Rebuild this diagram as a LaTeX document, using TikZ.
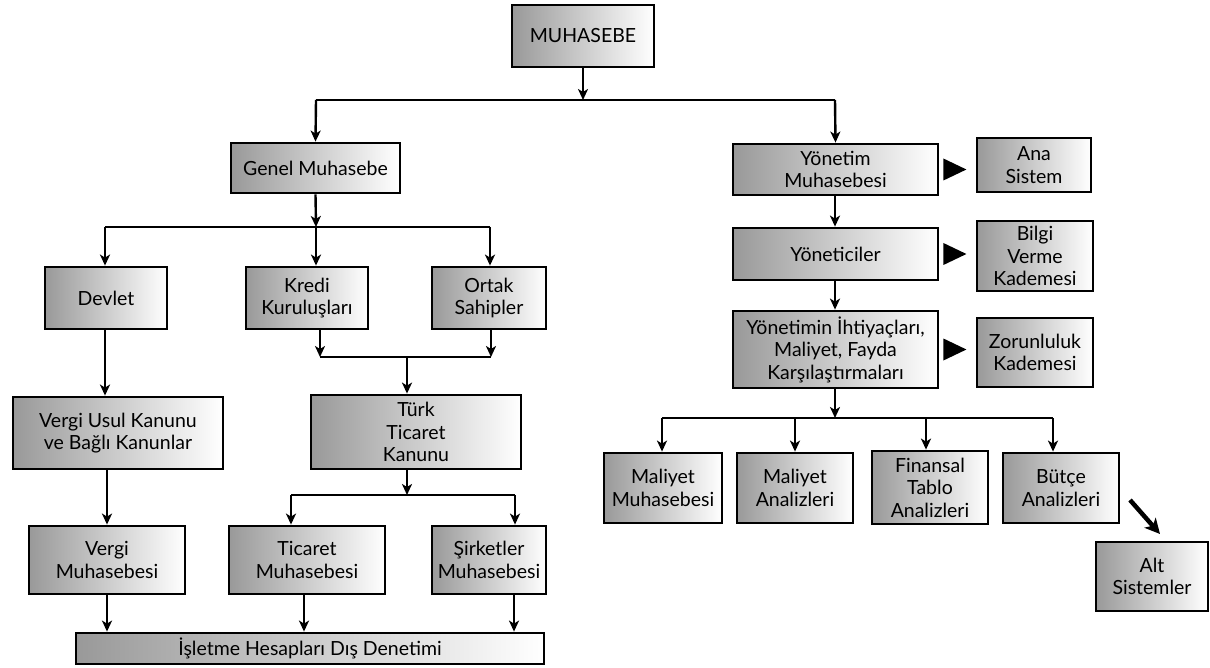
\documentclass[tikz,border=0pt]{standalone}
\usepackage{fontspec}
\setmainfont{Lato}
\usetikzlibrary{arrows.meta,calc}
\begin{document}
\begin{tikzpicture}[x=1pt,y=-1pt,
  box/.style={draw=black,line width=2.8pt,shading=axis,left color=black!40,right color=white,
    inner sep=0pt,align=center,font=\fontsize{19.5}{22.5}\selectfont},
  arr/.style={line width=2.4pt,-{Stealth[length=11pt,width=10pt,inset=3pt]}},
  ln/.style={line width=2.4pt},
  tri/.style={fill=black}]
\useasboundingbox (0,0) rectangle (1210,668);
\newcommand{\bx}[6]{\node[box,minimum width={#4-#2},minimum height={#5-#3}] (#1) at ({(#2+#4)/2},{(#3+#5)/2}) {#6};}
% left branch
\bx{mu}{512}{5}{654}{67}{MUHASEBE}
\bx{gm}{231}{143}{400}{193}{Genel Muhasebe}
\bx{dv}{45}{267}{167}{329}{Devlet}
\bx{kk}{246}{267}{368}{329}{Kredi\\Kuruluşları}
\bx{os}{432}{267}{546}{329}{Ortak\\Sahipler}
\bx{vu}{13}{397}{223}{469}{Vergi Usul Kanunu\\ve Bağlı Kanunlar}
\bx{tt}{311}{395}{521}{469}{Türk\\Ticaret\\Kanunu}
\bx{vm}{29}{526}{185}{594}{Vergi\\Muhasebesi}
\bx{tm}{229}{526}{385}{594}{Ticaret\\Muhasebesi}
\bx{sm}{432}{526}{546}{594}{Şirketler\\Muhasebesi}
\bx{id}{76}{633}{544}{664}{İşletme Hesapları Dış Denetimi}
% right branch
\bx{ym}{733}{144}{938}{195}{Yönetim\\Muhasebesi}
\bx{as}{977}{138}{1091}{192}{Ana\\Sistem}
\bx{yn}{733}{228}{938}{280}{Yöneticiler}
\bx{bv}{977}{221}{1093}{291}{Bilgi\\Verme\\Kademesi}
\bx{yi}{733}{311}{938}{388}{Yönetimin İhtiyaçları,\\Maliyet, Fayda\\Karşılaştırmaları}
\bx{zk}{977}{318}{1093}{387}{Zorunluluk\\Kademesi}
\bx{mm}{604}{453}{722}{523}{Maliyet\\Muhasebesi}
\bx{ma}{737}{453}{853}{523}{Maliyet\\Analizleri}
\bx{ft}{872}{451}{988}{524}{Finansal\\Tablo\\Analizleri}
\bx{ba}{1003}{453}{1119}{523}{Bütçe\\Analizleri}
\bx{al}{1096}{542}{1208}{611}{Alt\\Sistemler}
% top connectors
\coordinate (j0) at (583,100);
\draw[arr] (mu.south) -- (j0);
\draw[ln] (316,100) -- (835,100);
\draw[arr] (316,100) -- (gm.north);
\draw[arr] (835,100) -- (ym.north);
% genel muhasebe split
\coordinate (j1) at (316,227);
\draw[arr] (gm.south) -- (j1);
\draw[ln] (105,227) -- (490,227);
\draw[arr] (105,227) -- (dv.north-|105,0);
\draw[arr] (316,227) -- (kk.north-|316,0);
\draw[arr] (490,227) -- (os.north-|490,0);
% kredi / ortak merge
\draw[arr] (kk.south-|320,0) -- (320,357);
\draw[arr] (os.south-|491,0) -- (491,357);
\draw[ln] (320,357) -- (491,357);
\draw[arr] (407,357) -- (tt.north-|407,0);
% devlet chain
\draw[arr] (dv.south-|105,0) -- (vu.north-|105,0);
\draw[arr] (vu.south-|107,0) -- (vm.north-|107,0);
% turk ticaret split
\coordinate (j2) at (407,495);
\draw[arr] (tt.south-|407,0) -- (j2);
\draw[ln] (291,495) -- (515,495);
\draw[arr] (291,495) -- (tm.north-|291,0);
\draw[arr] (515,495) -- (sm.north-|515,0);
% to isletme
\draw[arr] (vm.south-|107,0) -- (id.north-|107,0);
\draw[arr] (tm.south-|304,0) -- (id.north-|304,0);
\draw[arr] (sm.south-|514,0) -- (id.north-|514,0);
% right chain
\draw[arr] (ym.south-|835,0) -- (yn.north-|835,0);
\draw[arr] (yn.south-|835,0) -- (yi.north-|835,0);
\coordinate (j3) at (835,418);
\draw[arr] (yi.south-|835,0) -- (j3);
\draw[ln] (662,418) -- (1053,418);
\draw[arr] (662,418) -- (mm.north-|662,0);
\draw[arr] (795,418) -- (ma.north-|795,0);
\draw[arr] (926,418) -- (ft.north-|926,0);
\draw[arr] (1053,418) -- (ba.north-|1053,0);
% triangles
\fill[tri] ($(ym.east)+(4,-11)$) -- ++(23,11) -- ++(-23,11) -- cycle;
\fill[tri] ($(yn.east)+(4,-11)$) -- ++(23,11) -- ++(-23,11) -- cycle;
\fill[tri] ($(yi.east)+(4,-11)$) -- ++(23,11) -- ++(-23,11) -- cycle;
% diagonal arrow
\coordinate (d0) at (1130,500);
\coordinate (d1) at (1160,534);
\draw[line width=4.5pt,-{Stealth[length=15pt,width=15pt,inset=4pt]}] (d0) -- (d1);
\end{tikzpicture}
\end{document}
